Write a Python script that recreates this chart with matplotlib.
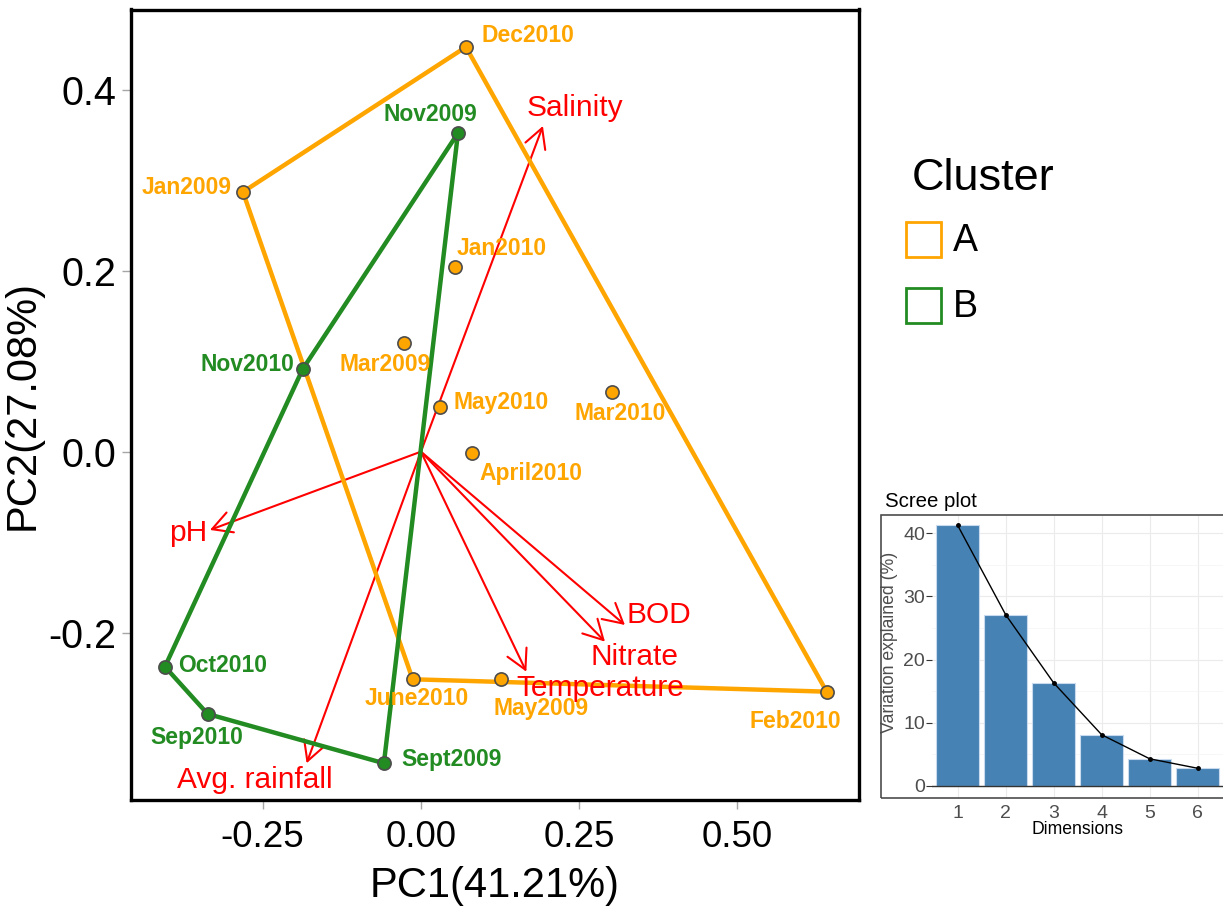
import matplotlib
matplotlib.use("Agg")
import matplotlib.pyplot as plt
from matplotlib.patches import FancyArrowPatch, Rectangle
import numpy as np

plt.rcParams['font.family'] = ['Liberation Sans', 'DejaVu Sans']

# ---------------- data ----------------
samples = ["Dec2010", "Nov2009", "Jan2009", "Jan2010", "Mar2009", "Nov2010", "May2010",
           "Mar2010", "April2010", "Oct2010", "Sep2010", "Sept2009", "June2010", "May2009", "Feb2010"]
pc1 = [0.0711, 0.0585, -0.2812, 0.0537, -0.0269, -0.1869, 0.0300,
       0.3017, 0.0801, -0.4044, -0.3370, -0.0585, -0.0131, 0.1259, 0.6409]
pc2 = [0.4472, 0.3521, 0.2870, 0.2041, 0.1201, 0.0911, 0.0497,
       0.0656, -0.0011, -0.2376, -0.2898, -0.3443, -0.2515, -0.2515, -0.2652]
cluster = ["A", "B", "A", "A", "A", "B", "A", "A", "A", "B", "B", "B", "A", "A", "A"]

variables = ["Salinity", "pH", "BOD", "Nitrate", "Temperature", "Avg. rainfall"]
load1 = [0.1927, -0.3333, 0.3223, 0.2907, 0.1665, -0.1806]
load2 = [0.3599, -0.0865, -0.1915, -0.2099, -0.2431, -0.3443]

dims = [1, 2, 3, 4, 5, 6]
var_explained = [41.21, 27.08, 16.3, 8.1, 4.3, 2.8]

xticks = [-0.25, 0.00, 0.25, 0.50]
xtick_labels = ["-0.25", "0.00", "0.25", "0.50"]
yticks = [-0.2, 0.0, 0.2, 0.4]
ytick_labels = ["-0.2", "0.0", "0.2", "0.4"]

# label offsets (points) -- layout only
label_offsets = {
    "Dec2010": (44.6, 8.6), "Nov2009": (-20, 13), "Jan2009": (-40.3, 2.9),
    "Jan2010": (33.8, 13), "Mar2009": (-13.7, -15.8), "Nov2010": (-39.7, 3.1),
    "May2010": (43.9, 2.7), "Mar2010": (5.8, -15.6), "April2010": (42.7, -15.3),
    "Oct2010": (41.8, 1.2), "Sep2010": (-7.7, -17.3), "Sept2009": (49, 2.4),
    "June2010": (3, -13.5), "May2009": (29, -20.7), "Feb2010": (-22.8, -21.6),
}
var_offsets = {
    "Salinity": (23, 13), "pH": (-15.5, -2), "BOD": (24.5, 7),
    "Nitrate": (21.6, -10.8), "Temperature": (53, -11.7), "Avg. rainfall": (-37, -12),
}
colors = {"A": "#FFA500", "B": "#228B22"}


def convex_hull(pts):
    pts = sorted(set(pts))
    if len(pts) <= 2:
        return pts

    def cross(o, a, b):
        return (a[0] - o[0]) * (b[1] - o[1]) - (a[1] - o[1]) * (b[0] - o[0])
    lower = []
    for p in pts:
        while len(lower) >= 2 and cross(lower[-2], lower[-1], p) <= 0:
            lower.pop()
        lower.append(p)
    upper = []
    for p in reversed(pts):
        while len(upper) >= 2 and cross(upper[-2], upper[-1], p) <= 0:
            upper.pop()
        upper.append(p)
    return lower[:-1] + upper[:-1]


W, H = 1223, 915
fig = plt.figure(figsize=(W / 100, H / 100), dpi=100)

# ---------------- main biplot ----------------
L, R, T, B = 131, 859, 9.5, 800
ax = fig.add_axes([L / W, 1 - B / H, (R - L) / W, (B - T) / H])
ax.set_xlim(-0.458, 0.692)
ax.set_ylim(-0.3849, 0.4886)

# arrows
for v, x, y in zip(variables, load1, load2):
    arr = FancyArrowPatch((0, 0), (x, y), arrowstyle='->,head_length=0.7,head_width=0.38',
                          mutation_scale=20, color='red', lw=1.5, shrinkA=0, shrinkB=0, zorder=2)
    ax.add_patch(arr)

# hulls
for cl in ["A", "B"]:
    pts = [(x, y) for x, y, c in zip(pc1, pc2, cluster) if c == cl]
    hull = convex_hull(pts)
    hull.append(hull[0])
    hx, hy = zip(*hull)
    ax.plot(hx, hy, color=colors[cl], lw=3.2, zorder=3, solid_joinstyle='round')

# points
for x, y, c in zip(pc1, pc2, cluster):
    ax.plot(x, y, 'o', ms=9.5, mfc=colors[c], mec='#4d4d4d', mew=1.2, zorder=4)

# point labels
for s, x, y, c in zip(samples, pc1, pc2, cluster):
    ax.annotate(s, (x, y), xytext=label_offsets[s], textcoords='offset points',
                ha='center', va='center', fontsize=16.5, fontweight='bold',
                color=colors[c], zorder=5)

# variable labels
for v, x, y in zip(variables, load1, load2):
    ax.annotate(v, (x, y), xytext=var_offsets[v], textcoords='offset points',
                ha='center', va='center', fontsize=21.5, color='red', zorder=6)

ax.set_xticks(xticks)
ax.set_xticklabels(xtick_labels)
ax.set_yticks(yticks)
ax.set_yticklabels(ytick_labels)
ax.tick_params(axis='both', length=6.5, width=1, color='#a6a6a6', pad=4)
ax.tick_params(axis='x', labelsize=26.5, pad=8)
ax.tick_params(axis='y', labelsize=28.5)
for sp in ax.spines.values():
    sp.set_linewidth(2.4)
    sp.set_color('black')
ax.set_xlabel("PC1(41.21%)", fontsize=30, labelpad=8)
ax.set_ylabel("PC2(27.08%)", fontsize=30, labelpad=4)

# ---------------- legend ----------------
fig.text(983 / W, 1 - 178 / H, "Cluster", fontsize=32.5, ha='center', va='center')
for i, cl in enumerate(["A", "B"]):
    y0 = 221.7 + i * 66.3
    fig.patches.append(Rectangle((905.7 / W, 1 - (y0 + 35.3) / H), 35.3 / W, 35.3 / H,
                                 transform=fig.transFigure, facecolor='none',
                                 edgecolor=colors[cl], lw=2))
    fig.text(965 / W, 1 - (y0 + 19) / H, cl, fontsize=27, ha='center', va='center')

# ---------------- scree inset ----------------
sl, sr, st, sb = 932, 1223, 515, 798
fig.patches.append(Rectangle((881 / W, 1 - sb / H), (1240 - 881) / W, (sb - st) / H,
                             transform=fig.transFigure, facecolor='none',
                             edgecolor='#4d4d4d', lw=1.2, zorder=10))
ax2 = fig.add_axes([sl / W, 1 - sb / H, (sr - sl) / W, (sb - st) / H])
ax2.set_xlim(0.465, 6.527)
ax2.set_ylim(-1.9, 42.85)
ax2.set_yticks([0, 10, 20, 30, 40])
ax2.set_yticks([5, 15, 25, 35], minor=True)
ax2.set_xticks(dims)
ax2.grid(True, which='major', color='#ebebeb', lw=0.8)
ax2.grid(True, which='minor', axis='y', color='#f4f4f4', lw=0.5)
ax2.set_axisbelow(True)
ax2.bar(dims, var_explained, width=0.9, color='#4682B4', edgecolor='#c8dbee', lw=0.8, zorder=2)
ax2.axhline(0, color='#333333', lw=1.0, zorder=3)
ax2.plot(dims, var_explained, color='black', lw=1.0, marker='o', ms=2.5, zorder=4)
for sp in ax2.spines.values():
    sp.set_visible(False)
ax2.tick_params(axis='y', which='major', length=4, color='#333333', labelsize=14,
                labelcolor='#4d4d4d', pad=1)
ax2.tick_params(axis='y', which='minor', length=0)
ax2.tick_params(axis='x', length=0, labelsize=14, labelcolor='#4d4d4d', pad=5)
ax2.set_xlabel("Dimensions", fontsize=12.7, labelpad=-1)
ax2.set_ylabel("Variation explained (%)", fontsize=12.7, color='#4d4d4d')
ax2.yaxis.set_label_coords((898 - sl) / (sr - sl), 0.55)
ax2.set_title("Scree plot", fontsize=14.7, loc='left', x=(885 - sl) / (sr - sl), pad=6)

fig.savefig("out.png", dpi=100)
